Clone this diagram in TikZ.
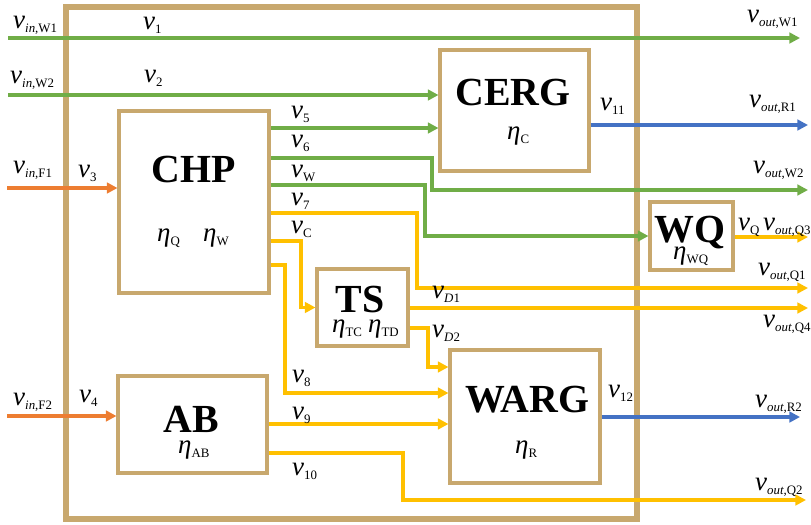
\documentclass[tikz,border=0pt]{standalone}
\usepackage{fontspec}
\setmainfont{Liberation Serif}
\usepackage{tikz}
\usetikzlibrary{arrows.meta}
\definecolor{frametan}{HTML}{C8A86E}
\definecolor{flowgreen}{HTML}{70AD47}
\definecolor{floworange}{HTML}{ED7D31}
\definecolor{flowgold}{HTML}{FFC000}
\definecolor{flowblue}{HTML}{4472C4}
\newcommand{\flw}[1]{\textit{v}\raisebox{-4pt}{\fontsize{11}{11}\selectfont #1}}
\newcommand{\eff}[1]{\textit{η}\raisebox{-4pt}{\fontsize{11}{11}\selectfont #1}}
\tikzset{
  unitbox/.style={draw=frametan, line width=2.6pt, inner sep=0pt, fill=white},
  unittitle/.style={font=\fontsize{34}{36}\selectfont\bfseries, inner sep=0pt, anchor=base},
  vlabel/.style={font=\fontsize{23}{26}\selectfont, inner sep=0pt, anchor=base west},
  flow/.style={line width=2.6pt, -{Triangle[length=9pt, width=9pt]}},
  gflow/.style={flow, draw=flowgreen, color=flowgreen},
  oflow/.style={flow, draw=floworange, color=floworange},
  yflow/.style={flow, draw=flowgold, color=flowgold},
  bflow/.style={flow, draw=flowblue, color=flowblue},
}
\begin{document}
\begin{tikzpicture}[x=0.03cm, y=-0.03cm]
  \useasboundingbox (0,0) rectangle (811,524);
  % plant boundary
  \draw[frametan, line width=4.5pt] (66,7) rectangle (637,519);

  % units
  \node[unitbox, minimum width=4.5cm, minimum height=5.46cm] (CHP) at (194,202) {};
  \node[unitbox, minimum width=4.47cm, minimum height=3.63cm] (CERG) at (514.5,110.5) {};
  \node[unitbox, minimum width=2.49cm, minimum height=2.04cm] (WQ) at (691.5,236) {};
  \node[unitbox, minimum width=2.73cm, minimum height=2.31cm] (TS) at (362.5,307.5) {};
  \node[unitbox, minimum width=4.5cm, minimum height=3.99cm] (WARG) at (525,416.5) {};
  \node[unitbox, minimum width=4.47cm, minimum height=2.91cm] (AB) at (192.5,424.5) {};

  \node[unittitle] (tCHP) at (194,182) {CHP};
  \node[unittitle] (tCERG) at (513,105) {CERG};
  \node[unittitle] (tWQ) at (690,242) {WQ};
  \node[unittitle] (tTS) at (360,312) {TS};
  \node[unittitle] (tAB) at (191,432) {AB};
  \node[unittitle] (tWARG) at (527,412) {WARG};

  \node[vlabel] (eQ) at (157,241) {\eff{Q}};
  \node[vlabel] (eW) at (203,241) {\eff{W}};
  \node[vlabel] (eC) at (507,139) {\eff{C}};
  \node[vlabel] (eWQ) at (673,259) {\eff{WQ}};
  \node[vlabel] (eTC) at (332,332) {\eff{TC}};
  \node[vlabel] (eTD) at (368,332) {\eff{TD}};
  \node[vlabel] (eAB) at (178,453) {\eff{AB}};
  \node[vlabel] (eR) at (515,453) {\eff{R}};

  % inlets, outlets and bends
  \coordinate (inW1) at (8,38);
  \coordinate (inW2) at (8,95);
  \coordinate (inF1) at (7,188);
  \coordinate (inF2) at (7,416);
  \coordinate (outW1) at (800,38);
  \coordinate (outR1) at (808,125);
  \coordinate (outW2) at (808,190);
  \coordinate (outQ3) at (808,237);
  \coordinate (outQ1) at (808,288);
  \coordinate (outQ4) at (808,308);
  \coordinate (outR2) at (800,417);
  \coordinate (outQ2) at (806,500);
  \coordinate (k5) at (300,128);
  \coordinate (k6) at (432,158);
  \coordinate (kW) at (425,185);
  \coordinate (k7) at (417,213);
  \coordinate (kC) at (301,241);
  \coordinate (k8) at (285,265);
  \coordinate (y8) at (450,393);
  \coordinate (k9) at (300,424);
  \coordinate (kD2) at (428,328);
  \coordinate (yD2) at (450,367);
  \coordinate (k10) at (403,453);

  % water
  \draw[gflow] (inW1) -- (outW1);
  \draw[gflow] (inW2) -- (CERG.west |- inW2);
  \draw[gflow] (CHP.east |- k5) -- (CERG.west |- k5);
  \draw[gflow] (CHP.east |- k6) -- (k6) |- (outW2);
  \draw[gflow] (CHP.east |- kW) -- (kW) |- (WQ.west);
  % fuel
  \draw[oflow] (inF1) -- (CHP.west |- inF1);
  \draw[oflow] (inF2) -- (AB.west |- inF2);
  % heat
  \draw[yflow] (CHP.east |- k7) -- (k7) |- (outQ1);
  \draw[yflow] (CHP.east |- kC) -- (kC) |- (TS.west);
  \draw[yflow] (CHP.east |- k8) -- (k8) |- (WARG.west |- y8);
  \draw[yflow] (AB.east |- k9) -- (WARG.west |- k9);
  \draw[yflow] (AB.east |- k10) -- (k10) |- (outQ2);
  \draw[yflow] (TS.east |- outQ4) -- (outQ4);
  \draw[yflow] (TS.east |- kD2) -- (kD2) |- (WARG.west |- yD2);
  \draw[yflow] (WQ.east |- outQ3) -- (outQ3);
  % cooling
  \draw[bflow] (CERG.east |- outR1) -- (outR1);
  \draw[bflow] (WARG.east |- outR2) -- (outR2);

  % flow labels
  \node[vlabel] (linW1) at (13,28) {\flw{\textit{in},W1}};
  \node[vlabel] (linW2) at (10,83) {\flw{\textit{in},W2}};
  \node[vlabel] (linF1) at (13,173) {\flw{\textit{in},F1}};
  \node[vlabel] (linF2) at (13,405) {\flw{\textit{in},F2}};
  \node[vlabel] (l1) at (143,29) {\flw{1}};
  \node[vlabel] (l2) at (144,82) {\flw{2}};
  \node[vlabel] (l3) at (78,177) {\flw{3}};
  \node[vlabel] (l4) at (79,402) {\flw{4}};
  \node[vlabel] (l5) at (291,118) {\flw{5}};
  \node[vlabel] (l6) at (291,147) {\flw{6}};
  \node[vlabel] (lW) at (291,177) {\flw{W}};
  \node[vlabel] (l7) at (291,205) {\flw{7}};
  \node[vlabel] (lC) at (291,233) {\flw{C}};
  \node[vlabel] (l8) at (292,382) {\flw{8}};
  \node[vlabel] (l9) at (292,419) {\flw{9}};
  \node[vlabel] (l10) at (292,475) {\flw{10}};
  \node[vlabel] (lD1) at (432,298) {\flw{\textit{D}1}};
  \node[vlabel] (lD2) at (432,337) {\flw{\textit{D}2}};
  \node[vlabel] (l11) at (600,110) {\flw{11}};
  \node[vlabel] (l12) at (608,397) {\flw{12}};
  \node[vlabel] (lQ) at (738,230) {\flw{Q}};
  \node[vlabel] (loutW1) at (747,22) {\flw{\textit{out},W1}};
  \node[vlabel] (loutR1) at (749,107) {\flw{\textit{out},R1}};
  \node[vlabel] (loutW2) at (753,173) {\flw{\textit{out},W2}};
  \node[vlabel] (loutQ3) at (763,230) {\flw{\textit{out},Q3}};
  \node[vlabel] (loutQ1) at (758,275) {\flw{\textit{out},Q1}};
  \node[vlabel] (loutQ4) at (763,327) {\flw{\textit{out},Q4}};
  \node[vlabel] (loutR2) at (755,407) {\flw{\textit{out},R2}};
  \node[vlabel] (loutQ2) at (755,490) {\flw{\textit{out},Q2}};
\end{tikzpicture}
\end{document}
